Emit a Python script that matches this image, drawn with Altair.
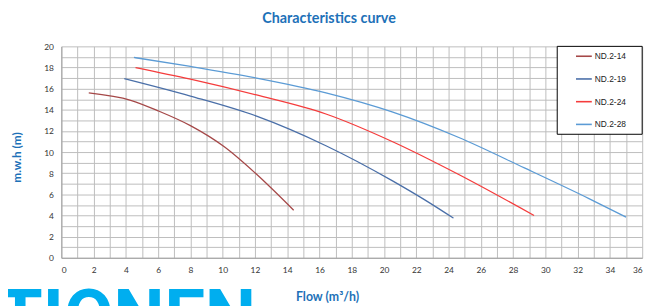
import altair as alt
import pandas as pd

series = ["ND.2-14", "ND.2-19", "ND.2-24", "ND.2-28"]
colors = ["#a54848", "#4a6fa8", "#f53c3c", "#5b9bd5"]

flow_14 = [1.7, 4.3, 6.0, 8.0, 10.1, 12.1, 14.4]
head_14 = [15.6, 14.9, 13.9, 12.5, 10.5, 7.9, 4.5]

flow_19 = [3.9, 8.0, 12.1, 16.4, 20.5, 22.5, 24.3]
head_19 = [16.95, 15.3, 13.4, 10.6, 7.3, 5.5, 3.75]

flow_24 = [4.6, 8.0, 12.1, 16.4, 20.5, 24.6, 29.3]
head_24 = [18.0, 16.9, 15.4, 13.6, 11.0, 7.9, 4.0]

flow_28 = [4.5, 8.0, 12.1, 16.4, 20.5, 24.6, 28.7, 32.7, 35.0]
head_28 = [18.95, 18.1, 17.0, 15.6, 13.8, 11.4, 8.5, 5.6, 3.85]

x_labels = list(range(0, 37, 2))
y_labels = list(range(0, 21, 2))
x_grid = list(range(0, 37))
y_grid = list(range(0, 21))

rows = []
for name, fx, hy in zip(series, [flow_14, flow_19, flow_24, flow_28],
                        [head_14, head_19, head_24, head_28]):
    for i, (a, b) in enumerate(zip(fx, hy)):
        rows.append({"series": name, "flow": a, "head": b, "order": i})
df = pd.DataFrame(rows)

label_font = "Lato"
title_blue = "#1d71b8"
grid_color = "#bdbdbd"

xscale = alt.Scale(domain=[0, 36], nice=False)
yscale = alt.Scale(domain=[0, 20], nice=False)

# grid-only axes (every unit)
x_grid_axis = alt.Axis(orient="bottom", values=x_grid, labels=False, ticks=False,
                       domain=False, grid=True, gridColor=grid_color, title=None)
y_grid_axis = alt.Axis(orient="left", values=y_grid, labels=False, ticks=False,
                       domain=False, grid=True, gridColor=grid_color, title=None)

# labelled axes (every second unit)
x_label_axis = alt.Axis(orient="bottom", values=x_labels, labelOverlap=False, grid=False,
                        ticks=False, labelPadding=8, title="Flow (m³/h)", titleX=269,
                        titleY=39, titleAlign="center", titleBaseline="middle",
                        titleFontSize=12.5)
y_label_axis = alt.Axis(orient="left", values=y_labels, labelOverlap=False, grid=False,
                        ticks=False, labelPadding=8, title="m.w.h (m)", titleX=-45,
                        titleY=112, titleAngle=270, titleAlign="center",
                        titleBaseline="middle")

lines = alt.Chart(df).mark_line(interpolate="monotone", strokeWidth=1.3).encode(
    x=alt.X("flow:Q", scale=xscale, axis=x_grid_axis),
    y=alt.Y("head:Q", scale=yscale, axis=y_grid_axis),
    color=alt.Color("series:N", scale=alt.Scale(domain=series, range=colors),
                    legend=alt.Legend(title=None, orient="none", legendX=520, legendY=1,
                                      symbolType="stroke", symbolSize=256,
                                      symbolStrokeWidth=1.6, labelFontSize=8.5,
                                      labelFont="Liberation Sans", labelColor="#222222",
                                      labelOffset=2, rowPadding=9, padding=0)),
    order="order:Q",
)

axis_host = alt.Chart(df).mark_point(opacity=0).encode(
    x=alt.X("flow:Q", scale=xscale, axis=x_label_axis),
    y=alt.Y("head:Q", scale=yscale, axis=y_label_axis),
)

box = alt.Chart(pd.DataFrame({"k": [0]})).mark_rect(fill="white", stroke="black", strokeWidth=1).encode(
    x=alt.value(502), x2=alt.value(588), y=alt.value(0), y2=alt.value(89)
)

logo = alt.Chart(pd.DataFrame({"t": ["TIONEN"]})).mark_text(
    align="left", baseline="alphabetic", fontSize=73, fontWeight="bold",
    font="Roboto", color="#00aeef"
).encode(text="t:N", x=alt.value(-64), y=alt.value(298))

chart = alt.layer(lines, axis_host, box, logo).resolve_axis(
    x="independent", y="independent"
).properties(
    width=588, height=214,
    autosize=alt.AutoSizeParams(type="none"),
    padding={"left": 54, "top": 37, "right": 15, "bottom": 47},
    title=alt.TitleParams("Characteristics curve", fontSize=14.5, font=label_font,
                          fontWeight="bold", color=title_blue, dx=-23, offset=16,
                          anchor="middle", frame="group"),
).configure_axis(
    domainColor="#a0a0a0",
    labelFont=label_font, labelFontSize=8.5, labelColor="#333333",
    titleFont=label_font, titleFontSize=12, titleFontWeight="bold", titleColor=title_blue,
).configure_view(stroke=None)

chart.save("out.html", embed_options={"renderer": "svg", "actions": False})
